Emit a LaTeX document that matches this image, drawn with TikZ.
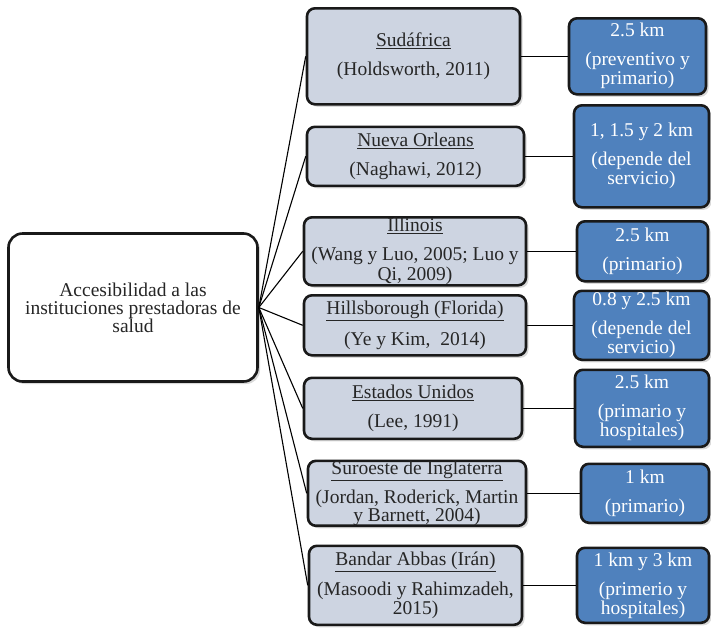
\documentclass[tikz,border=0pt]{standalone}
\usepackage{fontspec}
\setmainfont{Liberation Serif}
\usetikzlibrary{shadows}
\usetikzlibrary{positioning}
\definecolor{grisazul}{RGB}{205,212,225}
\definecolor{azuld}{RGB}{79,129,189}
\tikzset{
    nodec/.style = {rectangle, rounded corners=14pt, line width=2.6pt, draw=black!90, fill=white, align=center, inner sep=0pt, font=\fontsize{19.5}{18}\selectfont, text=black!85, drop shadow={shadow xshift=2.5pt, shadow yshift=-2.5pt, opacity=0.3}},
    nodel/.style = {rectangle, rounded corners=8pt, line width=2.6pt, draw=black!90, fill=grisazul, align=center, inner sep=0pt, font=\fontsize{19.5}{19.5}\selectfont, text=black!85, drop shadow={shadow xshift=2.5pt, shadow yshift=-2.5pt, opacity=0.3}},
    noded/.style = {rectangle, rounded corners=8pt, line width=2.6pt, draw=black!90, fill=azuld, align=center, inner sep=0pt, font=\fontsize{19.5}{19}\selectfont, text=white, drop shadow={shadow xshift=2.5pt, shadow yshift=-2.5pt, opacity=0.3}},
    edgen/.style = {-, line width=1.1pt, black}
}

\begin{document}
\begin{tikzpicture}[x=1pt, y=-1pt]
  \useasboundingbox (0,0) rectangle (711,627);
  % tema central
  \node[nodec, minimum width=249pt, minimum height=148pt] (n0) at (133,307.5) {Accesibilidad a las\\instituciones prestadoras de\\salud};
  % lugares
  \node[nodel, minimum width=213pt, minimum height=96pt] (c1) at (413.5,56.3) {\underline{Sudáfrica}\\[9.5pt](Holdsworth, 2011)};
  \node[nodel, minimum width=217pt, minimum height=59pt] (c2) at (415.5,156.3) {\underline{Nueva Orleans}\\[9.5pt](Naghawi, 2012)};
  \node[nodel, minimum width=222pt, minimum height=68pt] (c3) at (415,251.3) {\underline{Illinois}\\[9.5pt](Wang y Luo, 2005; Luo y\\Qi, 2009)};
  \node[nodel, minimum width=222pt, minimum height=60pt] (c4) at (415,325.3) {\underline{Hillsborough (Florida)}\\[9.5pt](Ye y Kim,~ 2014)};
  \node[nodel, minimum width=218pt, minimum height=61pt] (c5) at (413,408.3) {\underline{Estados Unidos}\\[9.5pt](Lee, 1991)};
  \node[nodel, minimum width=218pt, minimum height=60pt] (c6) at (417,493.3) {\underline{Suroeste de Inglaterra}\\[8pt](Jordan, Roderick, Martin\\[-1pt]y Barnett, 2004)};
  \node[nodel, minimum width=213pt, minimum height=79pt] (c7) at (415.5,585.3) {\underline{Bandar Abbas (Irán)}\\[9.5pt](Masoodi y Rahimzadeh,\\2015)};
  % distancias
  \node[noded, minimum width=137pt, minimum height=76pt] (d1) at (637.5,56.3) {2.5 km\\[10pt](preventivo y\\primario)};
  \node[noded, minimum width=135pt, minimum height=102pt] (d2) at (641.5,156.3) {1, 1.5 y 2 km\\[10pt](depende del\\servicio)};
  \node[noded, minimum width=131pt, minimum height=60pt] (d3) at (642.5,251.3) {2.5 km\\[10pt](primario)};
  \node[noded, minimum width=135pt, minimum height=69pt] (d4) at (641.5,325.3) {0.8 y 2.5 km\\[10pt](depende del\\servicio)};
  \node[noded, minimum width=134pt, minimum height=77pt] (d5) at (642,408.3) {2.5 km\\[10pt](primario y\\hospitales)};
  \node[noded, minimum width=128pt, minimum height=59pt] (d6) at (645,493.3) {1 km\\[10pt](primario)};
  \node[noded, minimum width=132pt, minimum height=75pt] (d7) at (643,585.3) {1 km y 3 km\\[10pt](primerio y\\hospitales)};
  % conexiones
  \draw[edgen] (n0.east) -- (c1.west);
  \draw[edgen] (n0.east) -- (c2.west);
  \draw[edgen] (n0.east) -- (c3.west);
  \draw[edgen] (n0.east) -- (c4.west);
  \draw[edgen] (n0.east) -- (c5.west);
  \draw[edgen] (n0.east) -- (c6.west);
  \draw[edgen] (n0.east) -- (c7.west);
  \draw[edgen] (c1.east) -- (d1.west);
  \draw[edgen] (c2.east) -- (d2.west);
  \draw[edgen] (c3.east) -- (d3.west);
  \draw[edgen] (c4.east) -- (d4.west);
  \draw[edgen] (c5.east) -- (d5.west);
  \draw[edgen] (c6.east) -- (d6.west);
  \draw[edgen] (c7.east) -- (d7.west);
\end{tikzpicture}
\end{document}
